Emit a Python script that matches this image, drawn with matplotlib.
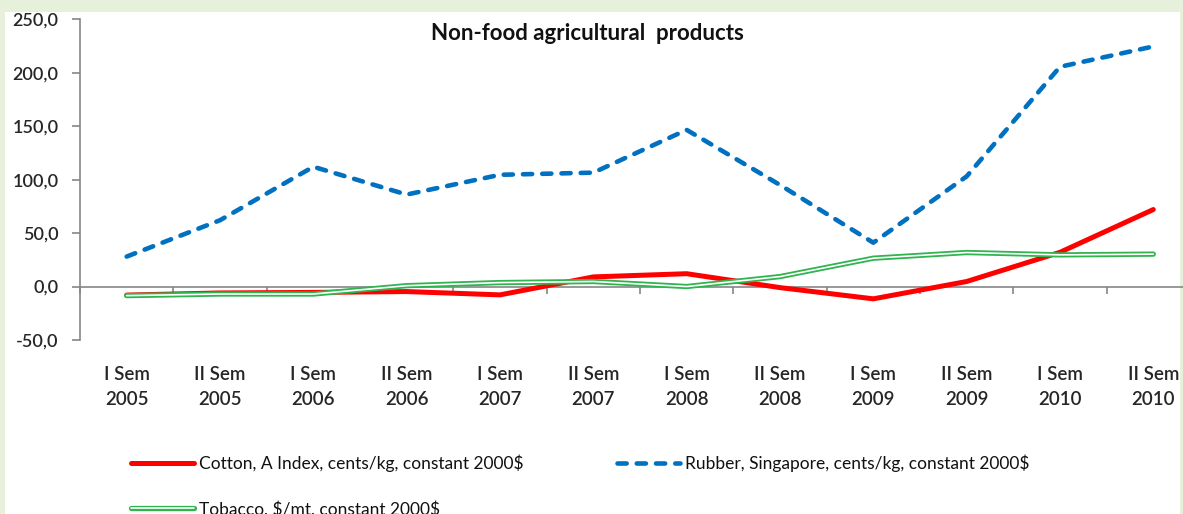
import matplotlib
matplotlib.use("Agg")
import matplotlib.pyplot as plt
import matplotlib.patheffects as pe
from matplotlib.patches import Rectangle
from matplotlib.ticker import FixedLocator, FuncFormatter

categories = ["I Sem\n2005", "II Sem\n2005", "I Sem\n2006", "II Sem\n2006",
              "I Sem\n2007", "II Sem\n2007", "I Sem\n2008", "II Sem\n2008",
              "I Sem\n2009", "II Sem\n2009", "I Sem\n2010", "II Sem\n2010"]
cotton = [-8.0, -6.0, -5.5, -4.7, -7.8, 9.0, 12.0, -1.0, -11.5, 4.7, 32.0, 72.0]
rubber = [28.0, 62.0, 112.0, 86.0, 104.5, 106.5, 146.5, 95.0, 41.0, 103.0, 205.5, 224.5]
tobacco = [-8.5, -7.0, -7.0, 0.8, 3.7, 4.7, 0.0, 9.3, 26.5, 31.8, 29.6, 30.3]
yticks = [-50, 0, 50, 100, 150, 200, 250]

W, H = 1183, 514
fig = plt.figure(figsize=(W / 100, H / 100), dpi=100)
fig.patch.set_facecolor("#e6f0da")
fig.patches.append(Rectangle((5 / W, 0), (1180 - 5) / W, (H - 12) / H,
                             transform=fig.transFigure, facecolor="white",
                             edgecolor="none", zorder=-5))

plt.rcParams["font.family"] = ["Lato", "DejaVu Sans"]

left_px, cat_w = 80, 93.33
y_top_px, y_bot_px = 19.2, 340.0
ax = fig.add_axes([left_px / W, (H - y_bot_px) / H,
                   12 * cat_w / W, (y_bot_px - y_top_px) / H])
ax.patch.set_alpha(0)
ax.set_zorder(2)

x = list(range(len(categories)))
ax.plot(x, cotton, color="#ff0000", lw=3.6, solid_capstyle="round",
        solid_joinstyle="round", label=r"Cotton, A Index, cents/kg, constant 2000\$", zorder=3)
ax.plot(x, rubber, color="#0070c0", lw=3.3, dashes=(2.0, 2.2),
        dash_capstyle="round", dash_joinstyle="round",
        label=r"Rubber, Singapore, cents/kg, constant 2000\$", zorder=3)
ax.plot(x, tobacco, color="white", lw=1.2, solid_capstyle="round",
        path_effects=[pe.Stroke(linewidth=3.8, foreground="#2fb450", capstyle="round"), pe.Normal()],
        label=r"Tobacco, \$/mt, constant 2000\$", zorder=4)

ax.set_xlim(-0.5, 11.5)
ax.set_ylim(-50, 250)

for s in ["top", "right"]:
    ax.spines[s].set_visible(False)
ax.spines["left"].set_color("#868686")
ax.spines["left"].set_linewidth(1.2)
ax.spines["bottom"].set_position(("data", 0))
ax.spines["bottom"].set_color("#868686")
ax.spines["bottom"].set_linewidth(1.2)

ax.yaxis.set_major_locator(FixedLocator(yticks))
ax.yaxis.set_major_formatter(FuncFormatter(lambda v, p: f"{v:.1f}".replace(".", ",")))
ax.tick_params(axis="y", direction="out", length=6, width=1.2, color="#868686",
               labelsize=13, labelcolor="#262626", pad=9.5)
for t in ax.get_yticklabels():
    t.set_fontweight("semibold")

ax.set_xticks(x)
ax.set_xticklabels(categories, fontsize=13.5, color="#262626", fontweight="semibold",
                   linespacing=1.6)
ax.tick_params(axis="x", which="major", length=0, pad=57)
ax.set_xticks([i + 0.5 for i in range(-1, 12)], minor=True)
ax.tick_params(axis="x", which="minor", direction="out", length=5, width=1.2, color="#868686")

fig.text(587 / W, 1 - 33 / H, "Non-food agricultural  products",
         ha="center", va="center", fontsize=16, fontweight="bold", color="#111111", zorder=5)

h, l = ax.get_legend_handles_labels()
order = [0, 2, 1]
leg = fig.legend([h[i] for i in order], [l[i] for i in order], loc="upper left",
                 bbox_to_anchor=(131 / W, 1 - 455 / H), ncol=2, frameon=False,
                 fontsize=12.5, handlelength=3.6, handletextpad=0.3, columnspacing=5.4,
                 labelspacing=1.6, borderpad=0, borderaxespad=0, labelcolor="#111111")
leg.set_zorder(5)

fig.savefig("out.png", dpi=100, facecolor=fig.get_facecolor())
